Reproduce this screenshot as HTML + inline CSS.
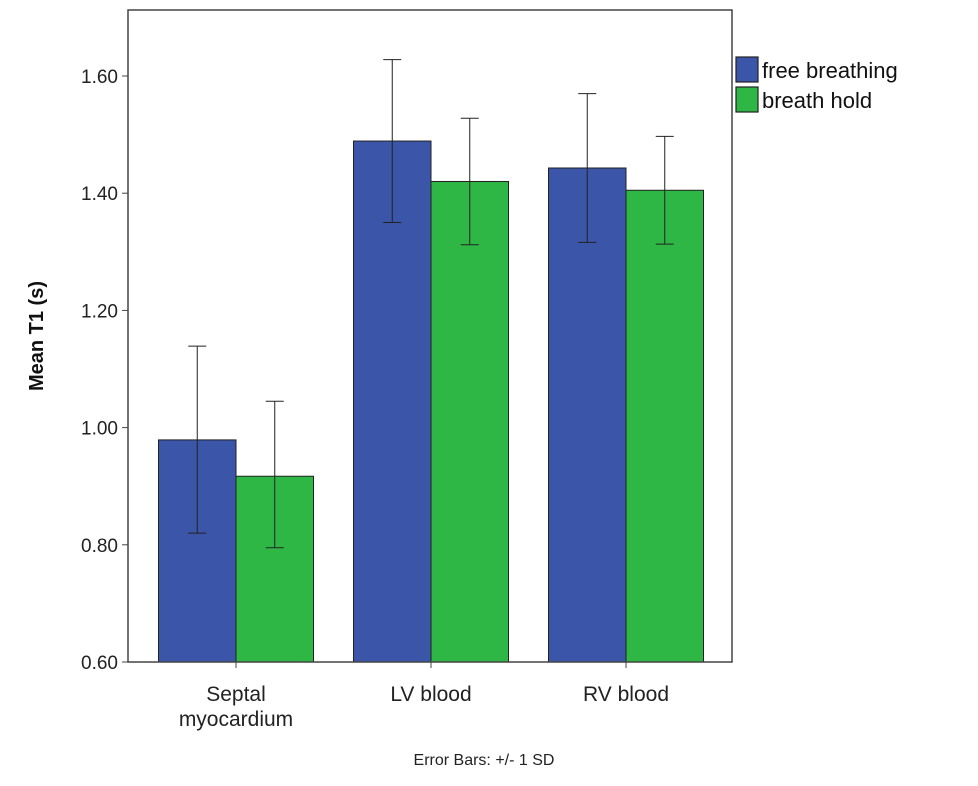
<!DOCTYPE html>
<html><head><meta charset="utf-8"><style>
body{margin:0;background:#fff;width:978px;height:786px;overflow:hidden}
svg{display:block;font-family:"Liberation Sans",Arial,sans-serif}
</style></head><body>
<svg id="c" width="978" height="786"></svg>
<script>
const categories=["Septal|myocardium","LV blood","RV blood"];
const freeMean=[0.979,1.489,1.443];
const freeLo=[0.82,1.35,1.316];
const freeHi=[1.139,1.628,1.57];
const holdMean=[0.917,1.42,1.405];
const holdLo=[0.795,1.312,1.313];
const holdHi=[1.045,1.528,1.497];
const yTicks=[0.6,0.8,1.0,1.2,1.4,1.6];
const seriesNames=["free breathing","breath hold"];

const NS="http://www.w3.org/2000/svg";
const svg=document.getElementById('c');
function el(t,a,p){const e=document.createElementNS(NS,t);for(const k in a)e.setAttribute(k,a[k]);(p||svg).appendChild(e);return e;}
const L=128,R=732,T=10,B=662;
const y=v=>B-(v-0.6)/1.0*586;
const barW=77.5;
const xc=i=>236+195*i;

for(const t of yTicks){
  const tk=el('line',{x1:L-6,x2:L,y1:y(t),y2:y(t),stroke:'#444'});
  
  
  const tx=el('text',{x:L-10,y:y(t)+7,'text-anchor':'end','font-size':19,fill:'#222'});
  tx.textContent=t.toFixed(2);
  
  
}
const cols=["#3b55a8","#2fb746"];
const sets=[[freeMean,freeLo,freeHi],[holdMean,holdLo,holdHi]];
categories.forEach((c,i)=>{
  const cx=xc(i);
  sets.forEach((s,j)=>{
    const x0=cx-barW+j*barW;
    const r=el('rect',{x:x0,y:y(s[0][i]),width:barW,height:B-y(s[0][i]),fill:cols[j],stroke:'#222','stroke-width':1});
    
    
    const mx=x0+barW/2;
    const g=el('g',{stroke:'#222','stroke-width':1});
    
    
    el('line',{x1:mx,x2:mx,y1:y(s[1][i]),y2:y(s[2][i])},g);
    el('line',{x1:mx-9,x2:mx+9,y1:y(s[1][i]),y2:y(s[1][i])},g);
    el('line',{x1:mx-9,x2:mx+9,y1:y(s[2][i]),y2:y(s[2][i])},g);
  });
  const tk=el('line',{x1:cx,x2:cx,y1:B,y2:B+6,stroke:'#444'});
  
  
  c.split('|').forEach((ln,k)=>{
    const tx=el('text',{x:cx,y:B+39+k*25,'text-anchor':'middle','font-size':21,fill:'#222'});
    tx.textContent=ln;
    
    
  });
});
const fr=el('rect',{x:L,y:T,width:R-L,height:B-T,fill:'none',stroke:'#444','stroke-width':1.5});


const yt=el('text',{x:0,y:0,transform:'translate(43,336) rotate(-90)','text-anchor':'middle','font-size':20,'font-weight':'bold',fill:'#111'});
yt.textContent='Mean T1 (s)';


const note=el('text',{x:484,y:765,'text-anchor':'middle','font-size':16,fill:'#222'});
note.textContent='Error Bars: +/- 1 SD';


seriesNames.forEach((n,j)=>{
  const sw=el('rect',{x:736,y:57+j*30,width:22,height:25,fill:cols[j],stroke:'#222','stroke-width':1.2});
  
  
  const tx=el('text',{x:762,y:78+j*30,'font-size':22,fill:'#111'});
  tx.textContent=n;
  
  
});
</script>
</body></html>
